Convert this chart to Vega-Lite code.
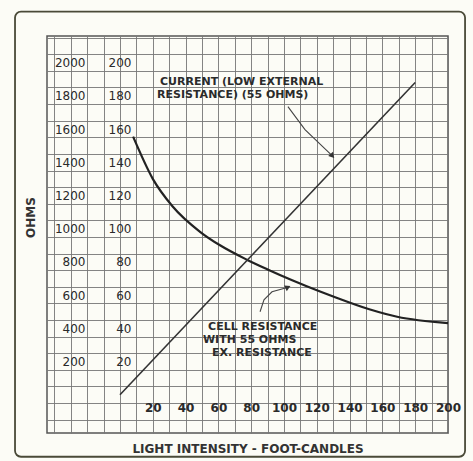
{
  "$schema": "https://vega.github.io/schema/vega-lite/v6.json",
  "width": 401,
  "height": 397,
  "autosize": "none",
  "padding": {"left": 47, "top": 36, "right": 25, "bottom": 28},
  "background": "#fcfcf6",
  "config": {"view": {"stroke": "#555", "strokeWidth": 1.5}, "font": "DejaVu Sans"},
  "datasets": {
    "resistance": [
      {"fc": 8, "ohms": 1554},
      {"fc": 20, "ohms": 1300},
      {"fc": 32, "ohms": 1135},
      {"fc": 49, "ohms": 980},
      {"fc": 61, "ohms": 900},
      {"fc": 77, "ohms": 815},
      {"fc": 90, "ohms": 755},
      {"fc": 105, "ohms": 690},
      {"fc": 122, "ohms": 622},
      {"fc": 130, "ohms": 592},
      {"fc": 152, "ohms": 515},
      {"fc": 169, "ohms": 470},
      {"fc": 200, "ohms": 432}
    ],
    "current": [
      {"fc": 0, "ma": 0},
      {"fc": 180, "ma": 188}
    ],
    "notes": [
      {"fc": 24.4, "ohms": 1886, "text": "CURRENT (LOW EXTERNAL"},
      {"fc": 22.6, "ohms": 1807, "text": "RESISTANCE) (55 OHMS)"},
      {"fc": 53.7, "ohms": 410, "text": "CELL RESISTANCE"},
      {"fc": 50.6, "ohms": 331, "text": "WITH 55 OHMS"},
      {"fc": 56.1, "ohms": 253, "text": "EX. RESISTANCE"}
    ],
    "arrows": [
      {"arrow": 1, "seq": 1, "fc": 102.4, "ohms": 1735},
      {"arrow": 1, "seq": 2, "fc": 112.8, "ohms": 1596},
      {"arrow": 1, "seq": 3, "fc": 128.7, "ohms": 1446},
      {"arrow": 2, "seq": 1, "fc": 85.4, "ohms": 500},
      {"arrow": 2, "seq": 2, "fc": 87.8, "ohms": 572},
      {"arrow": 2, "seq": 3, "fc": 92.7, "ohms": 620},
      {"arrow": 2, "seq": 4, "fc": 101.5, "ohms": 645}
    ],
    "heads": [
      {"arrow": 1, "fc": 129.5, "ohms": 1438},
      {"arrow": 2, "fc": 102.4, "ohms": 648}
    ]
  },
  "resolve": {"scale": {"x": "independent", "y": "independent"}},
  "layer": [
    {
      "data": {"name": "resistance"},
      "mark": {"type": "line", "interpolate": "monotone", "color": "#222", "strokeWidth": 2.2},
      "encoding": {
        "x": {
          "field": "fc", "type": "quantitative",
          "scale": {"domain": [-44.5, 200], "nice": false, "zero": false},
          "axis": {
            "values": [-40,-30,-20,-10,0,10,20,30,40,50,60,70,80,90,100,110,120,130,140,150,160,170,180,190,200],
            "grid": true, "gridColor": "#777", "gridWidth": 1, "gridOpacity": 0.9,
            "labels": false, "ticks": false, "tickSize": 0, "domain": false,
            "title": "LIGHT INTENSITY - FOOT-CANDLES", "titlePadding": 10,
            "titleFontSize": 12, "titleFontWeight": "bold", "titleColor": "#333"
          }
        },
        "y": {
          "field": "ohms", "type": "quantitative",
          "scale": {"domain": [-230, 2160], "nice": false, "zero": false},
          "axis": {
            "values": [-150,-50,50,150,250,350,450,550,650,750,850,950,1050,1150,1250,1350,1450,1550,1650,1750,1850,1950,2050,2150],
            "grid": true, "gridColor": "#777", "gridWidth": 1, "gridOpacity": 0.9,
            "labels": false, "ticks": false, "tickSize": 0, "domain": false,
            "title": "OHMS", "titlePadding": 10, "titleY": 181,
            "titleFontSize": 12, "titleFontWeight": "bold", "titleColor": "#333"
          }
        }
      }
    },
    {
      "data": {"name": "current"},
      "mark": {"type": "line", "color": "#333", "strokeWidth": 1.6},
      "encoding": {
        "x": {
          "field": "fc", "type": "quantitative",
          "scale": {"domain": [-44.5, 200], "nice": false, "zero": false},
          "axis": {
            "orient": "bottom", "values": [20,40,60,80,100,120,140,160,180,200],
            "grid": false, "ticks": false, "tickSize": 0, "domain": false,
            "offset": -31, "labelPadding": 0, "labelFlush": false, "labelOverlap": false,
            "labelFontSize": 12, "labelFontWeight": "bold", "labelColor": "#2a2a2a", "title": null
          }
        },
        "y": {
          "field": "ma", "type": "quantitative",
          "scale": {"domain": [-23, 216], "nice": false, "zero": false},
          "axis": {
            "orient": "left", "values": [20,40,60,80,100,120,140,160,180,200],
            "grid": false, "ticks": false, "tickSize": 0, "domain": false,
            "offset": -84, "labelPadding": 0, "labelFlush": false, "labelOverlap": false,
            "labelFontSize": 12, "labelColor": "#2a2a2a", "title": null
          }
        }
      }
    },
    {
      "data": {"name": "notes"},
      "mark": {"type": "text", "align": "left", "baseline": "middle", "fontSize": 11, "fontWeight": "bold", "color": "#2b2b2b"},
      "encoding": {
        "x": {"field": "fc", "type": "quantitative", "scale": {"domain": [-44.5, 200], "nice": false, "zero": false}, "axis": null},
        "y": {
          "field": "ohms", "type": "quantitative",
          "scale": {"domain": [-230, 2160], "nice": false, "zero": false},
          "axis": {
            "orient": "left", "values": [200,400,600,800,1000,1200,1400,1600,1800,2000], "format": "d",
            "grid": false, "ticks": false, "tickSize": 0, "domain": false,
            "offset": -38, "labelPadding": 0, "labelFlush": false, "labelOverlap": false,
            "labelFontSize": 12, "labelColor": "#2a2a2a", "title": null
          }
        },
        "text": {"field": "text"}
      }
    },
    {
      "data": {"name": "arrows"},
      "mark": {"type": "line", "color": "#444", "strokeWidth": 1.1},
      "encoding": {
        "x": {"field": "fc", "type": "quantitative", "scale": {"domain": [-44.5, 200], "nice": false, "zero": false}, "axis": null},
        "y": {"field": "ohms", "type": "quantitative", "scale": {"domain": [-230, 2160], "nice": false, "zero": false}, "axis": null},
        "detail": {"field": "arrow"},
        "order": {"field": "seq"}
      }
    },
    {
      "data": {"name": "heads"},
      "transform": [{"filter": "datum.arrow == 1"}],
      "mark": {"type": "point", "shape": "triangle-up", "filled": true, "color": "#333", "size": 40, "angle": 139, "opacity": 1},
      "encoding": {
        "x": {"field": "fc", "type": "quantitative", "scale": {"domain": [-44.5, 200], "nice": false, "zero": false}, "axis": null},
        "y": {"field": "ohms", "type": "quantitative", "scale": {"domain": [-230, 2160], "nice": false, "zero": false}, "axis": null}
      }
    },
    {
      "data": {"name": "heads"},
      "transform": [{"filter": "datum.arrow == 2"}],
      "mark": {"type": "point", "shape": "triangle-up", "filled": true, "color": "#333", "size": 40, "angle": 65, "opacity": 1},
      "encoding": {
        "x": {"field": "fc", "type": "quantitative", "scale": {"domain": [-44.5, 200], "nice": false, "zero": false}, "axis": null},
        "y": {"field": "ohms", "type": "quantitative", "scale": {"domain": [-230, 2160], "nice": false, "zero": false}, "axis": null}
      }
    },
    {
      "data": {"values": [{}]},
      "mark": {"type": "rect", "fill": null, "stroke": "#4a4a38", "strokeWidth": 1.8, "cornerRadius": 6},
      "encoding": {
        "x": {"datum": -64, "type": "quantitative", "scale": {"domain": [-44.5, 200], "nice": false, "zero": false}, "axis": null},
        "x2": {"datum": 210.4},
        "y": {"datum": 2307, "type": "quantitative", "scale": {"domain": [-230, 2160], "nice": false, "zero": false}, "axis": null},
        "y2": {"datum": -373}
      }
    }
  ]
}
